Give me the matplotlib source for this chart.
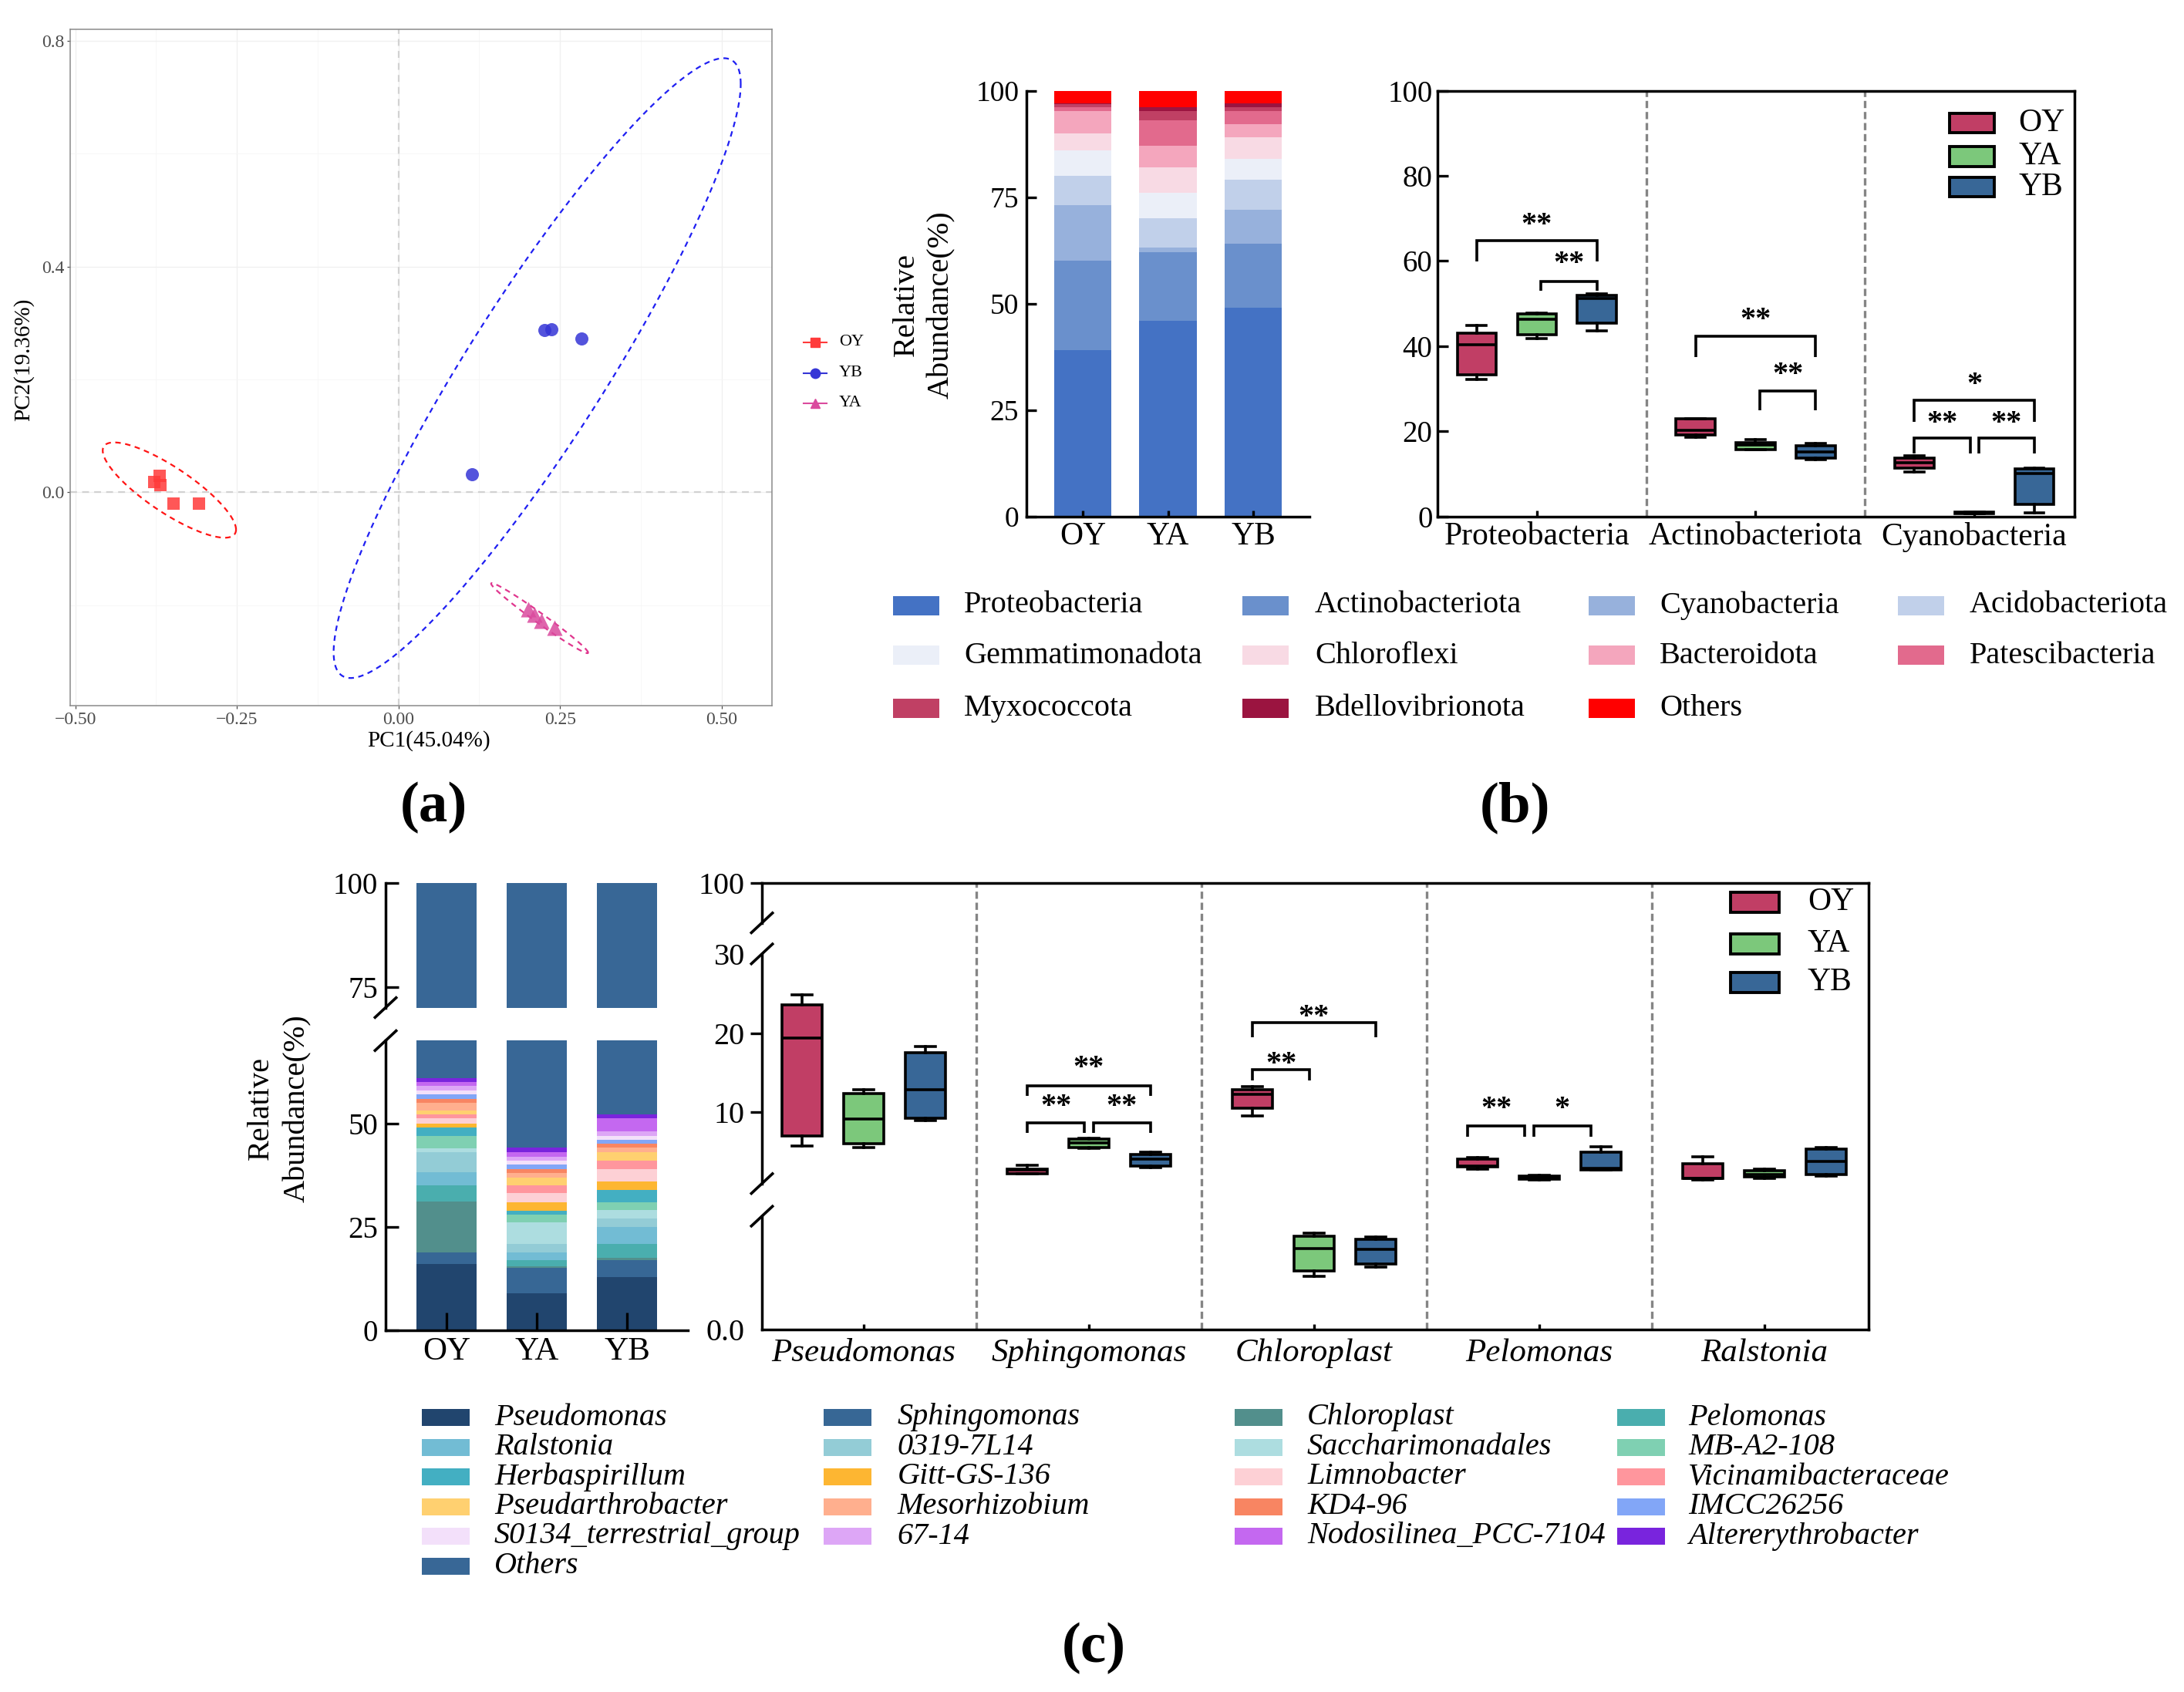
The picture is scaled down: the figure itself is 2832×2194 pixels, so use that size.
import numpy as np
import matplotlib
matplotlib.use('Agg')
import matplotlib.pyplot as plt
from matplotlib.patches import Rectangle
from matplotlib.lines import Line2D
from matplotlib.ticker import NullLocator
import matplotlib.transforms as mtransforms

plt.rcParams['font.family'] = ['Liberation Serif', 'DejaVu Serif']
plt.rcParams['axes.unicode_minus'] = True

W, H, DPI = 2832, 2194, 100

# ---------------------------------------------------------------- data
# (a) PCA scores
pca_groups = ['OY', 'YB', 'YA']
oy_pc1 = [-0.3775, -0.370, -0.368, -0.348, -0.309]
oy_pc2 = [0.018, 0.029, 0.013, -0.020, -0.020]
yb_pc1 = [0.2255, 0.237, 0.283, 0.1132]
yb_pc2 = [0.2875, 0.289, 0.272, 0.032]
ya_pc1 = [0.2014, 0.2101, 0.2213, 0.2412]
ya_pc2 = [-0.2068, -0.2170, -0.2283, -0.2397]
pca_xticks = [-0.50, -0.25, 0.00, 0.25, 0.50]
pca_yticks = [0.0, 0.4, 0.8]

# (b) phylum relative abundance (%)
groups = ['OY', 'YA', 'YB']
phyla = ['Proteobacteria', 'Actinobacteriota', 'Cyanobacteria', 'Acidobacteriota',
         'Gemmatimonadota', 'Chloroflexi', 'Bacteroidota', 'Patescibacteria',
         'Myxococcota', 'Bdellovibrionota', 'Others']
phylum_OY = [39.1, 20.9, 13.1, 6.9, 6.0, 4.0, 5.2, 0.9, 0.8, 0.1, 3.0]
phylum_YA = [46.0, 16.0, 1.1, 6.9, 6.0, 6.0, 5.1, 6.0, 2.1, 0.9, 3.9]
phylum_YB = [49.1, 14.9, 8.0, 7.1, 4.9, 5.1, 3.0, 3.1, 0.9, 0.9, 3.0]
phylum_colors = ['#4472C4', '#6A90CC', '#97B1DC', '#C1D0EA', '#EBEFF8', '#F8DAE4',
                 '#F4A6BD', '#E26A8D', '#C04064', '#9B1440', '#FF0000']

# (b) box plots: [min, q1, median, q3, max]
box_b_phyla = ['Proteobacteria', 'Actinobacteriota', 'Cyanobacteria']
box_b_OY = [[32.1, 33.2, 40.4, 43.0, 44.8], [18.6, 19.2, 20.2, 23.0, 23.0], [10.4, 11.3, 12.6, 13.7, 14.3]]
box_b_YA = [[41.7, 42.6, 46.3, 47.5, 47.8], [15.6, 15.6, 16.8, 17.4, 18.1], [0.6, 0.7, 0.85, 1.0, 1.0]]
box_b_YB = [[43.5, 45.3, 51.2, 51.9, 52.2], [13.4, 13.7, 15.2, 16.6, 17.1], [0.9, 2.9, 10.0, 11.1, 11.3]]
# significance: (phylum idx, group i, group j, bracket top, leg end, label, text y, shift)
sig_b = [(0, 0, 2, 64.75, 59.85, '**', 69.8, 0), (0, 1, 2, 55.25, 52.98, '**', 60.75, 0),
         (1, 0, 2, 42.26, 37.36, '**', 47.55, 0), (1, 1, 2, 29.43, 24.90, '**', 34.72, 0),
         (2, 0, 2, 27.32, 22.26, '*', 32.45, 0), (2, 0, 1, 18.34, 14.72, '**', 23.40, 0),
         (2, 1, 2, 18.34, 14.72, '**', 23.40, 0)]

# (c) genus relative abundance (%)
genera = ['Pseudomonas', 'Sphingomonas', 'Chloroplast', 'Pelomonas', 'Ralstonia', '0319-7L14',
          'Saccharimonadales', 'MB-A2-108', 'Herbaspirillum', 'Gitt-GS-136', 'Limnobacter',
          'Vicinamibacteraceae', 'Pseudarthrobacter', 'Mesorhizobium', 'KD4-96', 'IMCC26256',
          'S0134_terrestrial_group', '67-14', 'Nodosilinea_PCC-7104', 'Altererythrobacter', 'Others']
genus_OY = [16.0, 2.9, 12.2, 4.0, 3.1, 4.9, 0.9, 3.0, 2.1, 0.9, 1.2, 0.9, 1.0, 1.9, 1.0, 1.1, 0.9, 1.0, 1.0, 1.0, 39.0]
genus_YA = [9.0, 6.0, 0.5, 1.5, 1.9, 2.0, 5.1, 2.0, 0.9, 2.1, 2.1, 2.0, 1.8, 1.2, 0.9, 1.1, 0.9, 1.0, 1.1, 1.0, 55.9]
genus_YB = [12.9, 4.1, 0.5, 3.4, 4.1, 2.0, 2.0, 2.0, 3.0, 2.0, 3.0, 2.0, 2.1, 1.0, 1.0, 1.0, 0.9, 1.0, 3.2, 1.0, 47.8]
genus_colors = ['#21456E', '#376795', '#528F8C', '#4AAEAE', '#72BCD4', '#93CCD6', '#ADDDE0',
                '#7FD0B2', '#43AFC2', '#FDB632', '#FDD0D5', '#FF969D', '#FFD070', '#FFAF8E',
                '#F88562', '#82A6F7', '#F3E0FA', '#DDA6F6', '#C468F0', '#7924DD', '#386796']

# (c) box plots
box_c_genera = ['Pseudomonas', 'Sphingomonas', 'Chloroplast', 'Pelomonas', 'Ralstonia']
box_c_OY = [[5.74, 7.01, 19.41, 23.56, 24.84], [2.26, 2.26, 2.68, 2.85, 3.27], [9.56, 10.54, 12.23, 12.87, 13.29],
            [2.85, 3.07, 3.2, 4.13, 4.25], [1.5, 1.62, 1.7, 3.49, 4.38]]
box_c_YA = [[5.52, 6.08, 9.13, 12.40, 12.87], [5.44, 5.52, 6.16, 6.58, 6.72], [0.469, 0.52, 0.714, 0.823, 0.853],
            [1.5, 1.55, 1.75, 1.95, 2.0], [1.62, 1.83, 2.13, 2.6, 2.85]]
box_c_YB = [[8.92, 9.26, 12.82, 17.54, 18.26], [2.98, 3.19, 4.04, 4.63, 5.01], [0.551, 0.58, 0.705, 0.796, 0.816],
            [2.7, 2.77, 2.9, 5.01, 5.61], [1.92, 2.13, 3.79, 5.32, 5.52]]
sig_c = [(1, 0, 2, 13.38, 12.10, '**', 16.35, 0), (1, 0, 1, 8.63, 7.44, '**', 11.47, 0),
         (1, 1, 2, 8.63, 7.44, '**', 11.47, 0), (2, 0, 2, 21.31, 19.44, '**', 22.80, 0),
         (2, 0, 1, 15.41, 14.01, '**', 16.85, 0), (3, 0, 1, 8.29, 6.92, '**', 11.17, -0.16),
         (3, 1, 2, 8.29, 6.92, '*', 11.17, -0.16)]

box_colors = ['#C13E65', '#7CC87B', '#386797']

# ---------------------------------------------------------------- helpers
fig = plt.figure(figsize=(W / DPI, H / DPI), dpi=DPI)


def rect(l, t, r, b):
    return [l / W, 1 - b / H, (r - l) / W, (b - t) / H]


def fig_line(xs, ys, **kw):
    fig.add_artist(Line2D([x / W for x in xs], [1 - y / H for y in ys],
                          transform=fig.transFigure, **kw))


def fig_rect(x, y, w, h, **kw):
    fig.add_artist(Rectangle((x / W, 1 - (y + h) / H), w / W, h / H,
                             transform=fig.transFigure, **kw))


def fig_text(x, y, s, **kw):
    fig.text(x / W, 1 - y / H, s, **kw)


def to_px(trans, x, y):
    dx, dy = trans.transform((x, y))
    return dx, H - dy


def break_mark(cx, cy):
    fig_line([cx - 15, cx + 15], [cy + 14, cy - 14], color='k', lw=2.6, solid_capstyle='butt')


def stats(rows):
    return [dict(whislo=r[0], q1=r[1], med=r[2], q3=r[3], whishi=r[4], fliers=[]) for r in rows]


def draw_boxes(ax, data_sets, G):
    for k, (rows, col) in enumerate(zip(data_sets, box_colors)):
        pos = [g * G + (k - 1) for g in range(len(rows))]
        ax.bxp(stats(rows), positions=pos, widths=0.65, capwidths=0.32, showfliers=False,
               patch_artist=True, manage_ticks=False,
               boxprops=dict(facecolor=col, edgecolor='k', linewidth=2.6),
               medianprops=dict(color='k', linewidth=2.6, solid_capstyle='butt'),
               whiskerprops=dict(color='k', linewidth=2.6),
               capprops=dict(color='k', linewidth=2.6))


def draw_sig(ax, sig, G, fs=29):
    for g, i, j, ytop, yleg, lab, ytxt, sh in sig:
        x1 = g * G + (i - 1) + (0.07 if (i == 1) else 0) + sh
        x2 = g * G + (j - 1) - (0.07 if (j == 1) else 0) + sh
        ax.plot([x1, x1, x2, x2], [yleg, ytop, ytop, yleg], color='k', lw=2.6,
                solid_joinstyle='miter', solid_capstyle='butt', zorder=4)
        ax.annotate(lab, xy=((x1 + x2) / 2, ytxt), xytext=(0, -0.45 * fs),
                    textcoords='offset points', ha='center', va='baseline',
                    fontsize=fs, fontweight='bold', annotation_clip=False)


def box_legend(x_patch, x_text, ys, w, h, fs=30):
    for y, col, lab in zip(ys, box_colors, groups):
        fig_rect(x_patch, y - h / 2, w, h, facecolor=col, edgecolor='k', lw=2.8)
        fig_text(x_text, y, lab, ha='left', va='center', fontsize=fs)


# ---------------------------------------------------------------- (a) PCA
ax_a = fig.add_axes(rect(91, 38, 1001, 915))
pca_sets = [(oy_pc1, oy_pc2), (yb_pc1, yb_pc2), (ya_pc1, ya_pc2)]
pca_colors = ['#FF3A3A', '#3535D6', '#DA4A9E']
ell_colors = ['#FF1414', '#1F1FF2', '#E0368E']
pca_markers = ['s', 'o', '^']
pca_sizes = [130, 150, 210]
for (p1, p2), c, ec, m, s in zip(pca_sets, pca_colors, ell_colors, pca_markers, pca_sizes):
    x = np.asarray(p1)
    y = np.asarray(p2)
    ax_a.scatter(x, y, marker=m, s=s, color=c, alpha=0.85, linewidths=0, zorder=3)
    n = len(x)
    d2 = n - 1
    fq = d2 / 2 * (0.05 ** (-2 / d2) - 1)   # F(0.95; 2, n-1)
    r = np.sqrt(2 * fq)
    L = np.linalg.cholesky(np.cov(x, y))
    t = np.linspace(0, 2 * np.pi, 241)
    e = r * (L @ np.vstack([np.cos(t), np.sin(t)]))
    ax_a.plot(x.mean() + e[0], y.mean() + e[1], color=ec, lw=1.6, dashes=(3.2, 2.6), zorder=2)
ax_a.axhline(0, color='#D2D2D2', lw=1.6, dashes=(4, 3), zorder=1)
ax_a.axvline(0, color='#D2D2D2', lw=1.6, dashes=(4, 3), zorder=1)
ax_a.set_xlim(-0.508, 0.578)
ax_a.set_ylim(-0.378, 0.8205)
ax_a.set_xticks(pca_xticks)
ax_a.set_xticklabels([f'{v:.2f}'.replace('-', '\u2212') for v in pca_xticks])
ax_a.set_yticks(pca_yticks)
ax_a.set_yticklabels([f'{v:.1f}' for v in pca_yticks])
ax_a.set_xticks([-0.375, -0.125, 0.125, 0.375], minor=True)
ax_a.set_yticks([-0.2, 0.2, 0.6], minor=True)
ax_a.grid(which='major', color='#F0F0F0', lw=1.0)
ax_a.grid(which='minor', color='#F6F6F6', lw=0.6)
ax_a.set_axisbelow(True)
ax_a.tick_params(which='minor', length=0)
ax_a.tick_params(which='major', direction='out', length=3, width=0.9, color='#4D4D4D',
                 labelcolor='#4D4D4D', labelsize=17, pad=2.5)
for sp in ax_a.spines.values():
    sp.set_color('#8A8A8A')
    sp.set_linewidth(1.1)
fig_text(556, 961, 'PC1(45.04%)', ha='center', va='center', fontsize=21)
fig_text(31, 466, 'PC2(19.36%)', ha='center', va='center', rotation=90, fontsize=21)
for yy, c, m, lab in zip([444, 483.5, 522.5], pca_colors, pca_markers, pca_groups):
    fig_line([1042, 1072], [yy, yy], color=c, lw=1.5)
    fig_line([1057], [yy], color=c, marker=m, ms=9, lw=0)
    fig_text(1088, yy, lab, ha='left', va='center', fontsize=16)

# ---------------------------------------------------------------- (b) stacked bars
ax_bs = fig.add_axes(rect(1331, 117.5, 1698, 669.6))
xb = np.arange(len(groups))
phylum_table = np.array([phylum_OY, phylum_YA, phylum_YB])
bottom = np.zeros(len(groups))
for i, (name, col) in enumerate(zip(phyla, phylum_colors)):
    ax_bs.bar(xb, phylum_table[:, i], bottom=bottom, width=0.67, color=col, linewidth=0, label=name)
    bottom += phylum_table[:, i]
ax_bs.set_xlim(-0.661, 2.661)
ax_bs.set_ylim(0, 100)
ax_bs.set_yticks([0, 25, 50, 75, 100])
ax_bs.set_xticks(xb)
ax_bs.set_xticklabels(groups)
for s in ['top', 'right']:
    ax_bs.spines[s].set_visible(False)
for s in ['left', 'bottom']:
    ax_bs.spines[s].set_linewidth(2.5)
ax_bs.tick_params(axis='y', direction='in', length=9.5, width=2.4, labelsize=27, pad=7)
ax_bs.tick_params(axis='x', direction='in', length=5.5, width=2.4, labelsize=30, pad=5)
fig_text(1198, 395, 'Relative\nAbundance(%)', ha='center', va='center', rotation=90,
         multialignment='center', fontsize=29, linespacing=1.3)

# legend (b) phyla
col_patch = [1158, 1611, 2060, 2461]
col_text = [1250, 1705, 2152, 2554]
row_y = [785, 850, 918.5]
for idx, (name, col) in enumerate(zip(phyla, phylum_colors)):
    r_, c_ = divmod(idx, 4)
    fig_rect(col_patch[c_], row_y[r_] - 12.5, 60, 25, facecolor=col, lw=0)
    fig_text(col_text[c_], row_y[r_], name, ha='left', va='center', fontsize=29)

# ---------------------------------------------------------------- (b) box plots
Gb = 3.64
ax_bb = fig.add_axes(rect(1864, 117.5, 2690, 669.6))
draw_boxes(ax_bb, [box_b_OY, box_b_YA, box_b_YB], Gb)
for g in range(len(box_b_phyla) - 1):
    ax_bb.axvline((g + 0.5) * Gb, color='#858585', lw=2.4, ls=(0, (2.8, 1.5)), zorder=0.5)
draw_sig(ax_bb, sig_b, Gb)
ax_bb.set_xlim(-1.654, 2 * Gb + 1.667)
ax_bb.set_ylim(0, 100)
ax_bb.set_yticks([0, 20, 40, 60, 80, 100])
ax_bb.set_xticks([g * Gb for g in range(3)])
ax_bb.set_xticklabels(box_b_phyla)
for sp in ax_bb.spines.values():
    sp.set_linewidth(2.5)
ax_bb.tick_params(axis='y', direction='in', length=10, width=2.4, labelsize=28, pad=4.7)
ax_bb.tick_params(axis='x', direction='in', length=5.5, width=2.4, labelsize=30, pad=5)
box_legend(2528, 2617, [159.5, 203, 242.5], 58, 25)

fig_text(562, 1047, '(a)', ha='center', va='center', fontsize=54, fontweight='bold')
fig_text(1965, 1047, '(b)', ha='center', va='center', fontsize=54, fontweight='bold')

# ---------------------------------------------------------------- (c) stacked bars (broken axis)
ax_cl = fig.add_axes(rect(500, 1349.4, 892, 1724.9))
ax_cu = fig.add_axes(rect(500, 1145.3, 892, 1306.5))
genus_table = np.array([genus_OY, genus_YA, genus_YB])
for ax in (ax_cl, ax_cu):
    bottom = np.zeros(len(groups))
    for i, col in enumerate(genus_colors):
        ax.bar(xb, genus_table[:, i], bottom=bottom, width=0.67, color=col, linewidth=0)
        bottom += genus_table[:, i]
    ax.set_xlim(-0.675, 2.675)
    ax.spines['top'].set_visible(False)
    ax.spines['right'].set_visible(False)
    ax.spines['left'].set_linewidth(2.5)
    ax.spines['bottom'].set_linewidth(2.5)
    ax.tick_params(axis='y', direction='in', length=12, width=2.4, labelsize=28, pad=7)
ax_cl.set_ylim(0, 70)
ax_cu.set_ylim(70, 100)
ax_cl.set_yticks([0, 25, 50])
ax_cu.set_yticks([75, 100])
ax_cl.set_xticks(xb)
ax_cl.set_xticklabels(groups)
ax_cl.tick_params(axis='x', direction='in', length=16.5, width=2.4, labelsize=31, pad=6)
ax_cu.spines['bottom'].set_visible(False)
ax_cu.set_xticks([])
fig_text(362, 1437, 'Relative\nAbundance(%)', ha='center', va='center', rotation=90,
         multialignment='center', fontsize=29, linespacing=1.35)
bx, by = to_px(ax_cl.transAxes, 0, 1)
break_mark(bx, by)
bx, by = to_px(ax_cu.transAxes, 0, 0)
break_mark(bx, by)

# legend (c) genera
gcol_patch = [547, 1068, 1601, 2096.5]
gcol_text = [641, 1163.6, 1695, 2189]
grow_y = [1838 + 38.5 * k for k in range(6)]
for idx, (name, col) in enumerate(zip(genera, genus_colors)):
    r_, c_ = divmod(idx, 4)
    fig_rect(gcol_patch[c_], grow_y[r_] - 11, 62, 22, facecolor=col, lw=0)
    fig_text(gcol_text[c_], grow_y[r_], name, ha='left', va='center', fontsize=29, fontstyle='italic')

# ---------------------------------------------------------------- (c) box plots (segmented y axis)
PXU = 10.27


def fwd_c(v):
    v = np.asarray(v, dtype=float)
    return np.select([v <= 1, v <= 30, v < 95],
                     [v * 147.0, 189.3 + (v - 1) * PXU, 487.0 + (v - 30) * (40.4 / 65)],
                     527.4 + (v - 95) * PXU)


def inv_c(s):
    s = np.asarray(s, dtype=float)
    return np.select([s <= 147.0, s < 189.3, s <= 487.0, s < 527.4],
                     [s / 147.0, np.ones_like(s), 1 + (s - 189.3) / PXU, 30 + (s - 487.0) * 65 / 40.4],
                     95 + (s - 527.4) / PXU)


Gc = 3.65
ax_cb = fig.add_axes(rect(988, 1145.3, 2423, 1724))
ax_cb.set_yscale('function', functions=(fwd_c, inv_c))
ax_cb.set_ylim(0, 100)
draw_boxes(ax_cb, [box_c_OY, box_c_YA, box_c_YB], Gc)
for g in range(len(box_c_genera) - 1):
    ax_cb.axvline((g + 0.5) * Gc, color='#858585', lw=2.4, ls=(0, (2.8, 1.5)), zorder=0.5)
draw_sig(ax_cb, sig_c, Gc)
ax_cb.set_xlim(-1.65, 4 * Gc + 1.69)
ax_cb.set_ylim(0, 100)
ax_cb.set_yticks([0, 10, 20, 30, 100])
ax_cb.set_yticklabels(['0.0', '10', '20', '30', '100'])
ax_cb.yaxis.set_minor_locator(NullLocator())
ax_cb.set_xticks([g * Gc for g in range(len(box_c_genera))])
ax_cb.set_xticklabels(box_c_genera, fontstyle='italic')
ax_cb.spines['left'].set_visible(False)
for s in ['top', 'right', 'bottom']:
    ax_cb.spines[s].set_linewidth(2.5)
ax_cb.tick_params(axis='y', direction='out', length=11, width=2.4, labelsize=29, pad=5)
ax_cb.tick_params(axis='x', direction='in', length=4.7, width=2.4, labelsize=31, pad=8)
yt = ax_cb.yaxis.get_major_ticks()
yt[0].tick1line.set_visible(False)
yt[3].tick1line.set_visible(False)
trans_c = mtransforms.blended_transform_factory(ax_cb.transAxes, ax_cb.transData)
for v0, v1 in [(0, 1), (1.0001, 30), (95, 100)]:
    ax_cb.plot([0, 0], [v0, v1], transform=trans_c, color='k', lw=2.5, clip_on=False,
               solid_capstyle='projecting')
for v in [1, 1.0001, 30, 95]:
    bx, by = to_px(trans_c, 0, v)
    break_mark(bx, by)
box_legend(2244, 2344, [1170, 1223.5, 1273.5], 63, 26)

fig_text(1418, 2137, '(c)', ha='center', va='center', fontsize=54, fontweight='bold')

fig.savefig('out.png', dpi=DPI, facecolor='white')
